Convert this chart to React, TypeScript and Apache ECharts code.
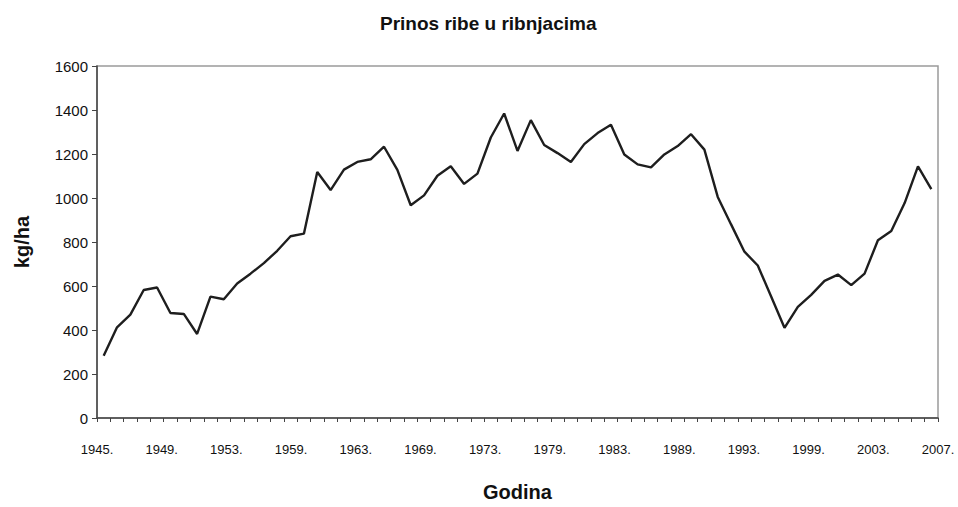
import React, { useEffect, useRef } from "react";
import * as echarts from "echarts";

const years: string[] = [];
for (let y = 1945; y <= 2007; y++) years.push(String(y));

const yields = [
  283, 412, 470, 582, 593, 477, 473, 382, 552, 540,
  611, 656, 704, 760, 826, 838, 1118, 1036, 1129, 1164,
  1176, 1233, 1128, 967, 1012, 1101, 1144, 1064, 1111, 1275,
  1384, 1214, 1354, 1241, 1204, 1164, 1245, 1295, 1333, 1198,
  1153, 1139, 1198, 1236, 1290, 1220, 1005, 880, 756, 693,
  552, 410, 505, 560, 623, 652, 604, 656, 808, 850,
  977, 1144, 1040,
];

const xTickLabels = [
  "1945.", "1949.", "1953.", "1959.", "1963.", "1969.", "1973.",
  "1979.", "1983.", "1989.", "1993.", "1999.", "2003.", "2007.",
];

const titleText = "Prinos ribe u ribnjacima";
const yName = "kg/ha";
const xName = "Godina";

export default function App() {
  const ref = useRef<HTMLDivElement>(null);
  useEffect(() => {
    if (!ref.current) return;
    const chart = echarts.init(ref.current, undefined, { renderer: "svg" });
    const font = "Liberation Sans, Arial, sans-serif";
    chart.setOption({
      animation: false,
      backgroundColor: "#ffffff",
      title: {
        text: titleText,
        left: 375,
        top: 9,
        textStyle: { fontFamily: font, fontSize: 19, fontWeight: "bold", color: "#111" },
      },
      grid: {
        left: 97,
        right: 20,
        top: 66,
        bottom: 84,
        show: true,
        borderColor: "#9a9a9a",
        borderWidth: 1.5,
        backgroundColor: "transparent",
      },
      xAxis: [
        {
          type: "category",
          data: years,
          boundaryGap: true,
          position: "bottom",
          axisLine: { show: true, lineStyle: { color: "#444", width: 1.5 } },
          axisTick: { show: true, interval: 0, length: 4, inside: false, lineStyle: { color: "#444" } },
          axisLabel: { show: false, interval: 0 },
          splitLine: { show: false },
          name: xName,
          nameLocation: "middle",
          nameGap: 64,
          nameTextStyle: { fontFamily: font, fontSize: 20, fontWeight: "bold", color: "#111" },
        },
        {
          type: "category",
          data: xTickLabels,
          boundaryGap: false,
          position: "bottom",
          axisLine: { show: false },
          axisTick: { show: false },
          axisLabel: { show: true, interval: 0, margin: 25, fontFamily: font, fontSize: 13, color: "#111" },
          splitLine: { show: false },
        },
      ],
      yAxis: {
        type: "value",
        min: 0,
        max: 1600,
        interval: 200,
        axisLine: { show: true, lineStyle: { color: "#444", width: 1.5 } },
        axisTick: { show: true, length: 5, inside: false, lineStyle: { color: "#444" } },
        axisLabel: {
          fontFamily: font,
          fontSize: 15,
          color: "#111",
          margin: 9,
          formatter: (v: number) => String(v),
        },
        splitLine: { show: false },
        name: yName,
        nameLocation: "middle",
        nameRotate: 90,
        nameGap: 65,
        nameTextStyle: { fontFamily: font, fontSize: 20, fontWeight: "bold", color: "#111" },
      },
      series: [
        {
          type: "line",
          data: yields,
          xAxisIndex: 0,
          showSymbol: false,
          symbol: "none",
          lineStyle: { color: "#1e1e1e", width: 2.4 },
        },
      ],
    });
    return () => chart.dispose();
  }, []);
  return (
    <div
      ref={ref}
      style={{ position: "absolute", left: 0, top: 0, width: 958, height: 507 }}
    />
  );
}
